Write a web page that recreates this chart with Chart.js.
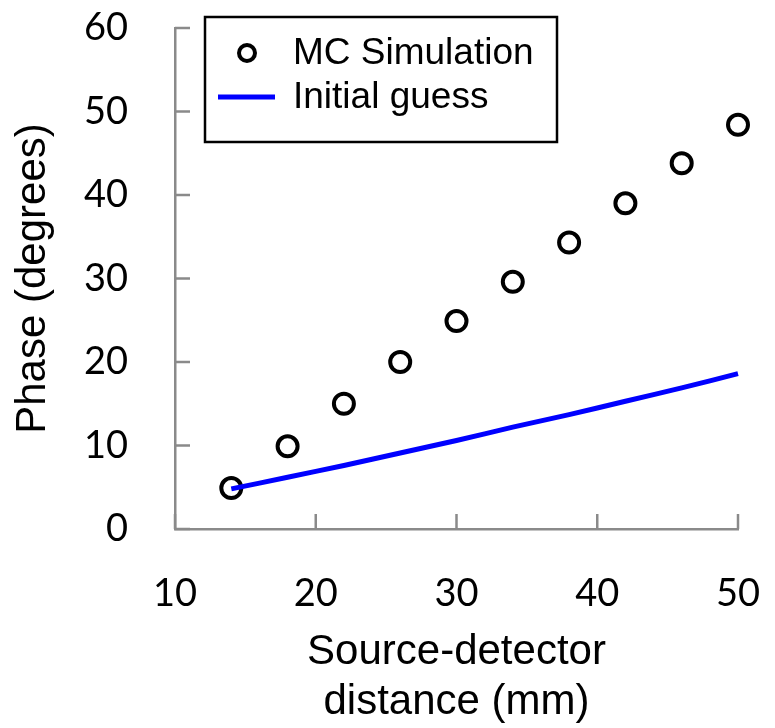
<!DOCTYPE html>
<html>
<head>
<meta charset="utf-8">
<script src="https://cdn.jsdelivr.net/npm/chart.js@4"></script>
<style>
  html, body { margin: 0; padding: 0; background: #fff; }
  #wrap { width: 775px; height: 728px; }
</style>
</head>
<body>
<div id="wrap"><canvas id="phaseChart"></canvas></div>
<script>
// distances (mm) and phases (degrees)
const distances = [14, 18, 22, 26, 30, 34, 38, 42, 46, 50];
const mcPhase = [4.9, 9.9, 15.0, 20.0, 24.9, 29.6, 34.3, 39.0, 43.8, 48.4];
const guessPhase = [4.8, 6.2, 7.6, 9.1, 10.6, 12.2, 13.7, 15.3, 16.9, 18.6];
const xTicks = [10, 20, 30, 40, 50];
const yTicks = [0, 10, 20, 30, 40, 50, 60];

const axisGray = "#8a8a8a";
const tickFont = { family: "Lato, 'Open Sans', sans-serif", size: 38 };
const titleFont = { family: "'Liberation Sans', Arial, sans-serif", size: 42, lineHeight: 1.2 };

// no automatic room for overhanging tick labels, the plot box is fixed
function noOverhang(scale) {
    scale.paddingTop = 0;
    scale.paddingBottom = 0;
    scale.paddingLeft = 0;
    scale.paddingRight = 0;
}

// Excel-style tick marks pointing into the plot
const innerTicks = {
    id: "innerTicks",
    afterDatasetsDraw(chart) {
        const { ctx, chartArea, scales } = chart;
        const len = 15;
        ctx.save();
        ctx.strokeStyle = axisGray;
        ctx.lineWidth = 2.5;
        ctx.beginPath();
        xTicks.forEach(v => {
            const px = scales.x.getPixelForValue(v);
            ctx.moveTo(px, chartArea.bottom);
            ctx.lineTo(px, chartArea.bottom - len);
        });
        yTicks.forEach(v => {
            const py = scales.y.getPixelForValue(v);
            ctx.moveTo(chartArea.left, py);
            ctx.lineTo(chartArea.left + len, py);
        });
        ctx.stroke();
        ctx.restore();
    }
};

// boxed legend inside the plot, top left
const boxLegend = {
    id: "boxLegend",
    afterDraw(chart) {
        const { ctx, chartArea } = chart;
        const left = chartArea.left + 30;
        const top = chartArea.top - 11;
        const w = 352, h = 125;
        ctx.save();
        ctx.fillStyle = "#fff";
        ctx.fillRect(left, top, w, h);
        ctx.strokeStyle = "#000";
        ctx.lineWidth = 2.5;
        ctx.strokeRect(left, top, w, h);

        const sc = chart.data.datasets[0];
        const ln = chart.data.datasets[1];
        // marker entry
        ctx.beginPath();
        ctx.arc(left + 42, top + 36, 8, 0, Math.PI * 2);
        ctx.lineWidth = 4;
        ctx.strokeStyle = sc.borderColor;
        ctx.stroke();
        // line entry
        ctx.beginPath();
        ctx.moveTo(left + 13, top + 80);
        ctx.lineTo(left + 70, top + 80);
        ctx.lineWidth = 5;
        ctx.strokeStyle = ln.borderColor;
        ctx.stroke();

        ctx.fillStyle = "#000";
        ctx.font = "37px 'Liberation Sans', Arial, sans-serif";
        ctx.textBaseline = "middle";
        ctx.fillText(sc.label, left + 88, top + 37);
        ctx.fillText(ln.label, left + 88, top + 81);
        ctx.restore();
    }
};

const ctx = document.getElementById("phaseChart").getContext("2d");
new Chart(ctx, {
    type: "scatter",
    data: {
        datasets: [{
            label: "MC Simulation",
            data: distances.map((d, i) => ({ x: d, y: mcPhase[i] })),
            borderColor: "#000",
            backgroundColor: "rgba(0,0,0,0)",
            borderWidth: 4,
            pointRadius: 10,
            pointHoverRadius: 10,
            clip: false,
            order: 1
        }, {
            type: "line",
            label: "Initial guess",
            data: distances.map((d, i) => ({ x: d, y: guessPhase[i] })),
            borderColor: "#0000ff",
            borderWidth: 5,
            pointRadius: 0,
            tension: 0.2,
            fill: false,
            clip: false,
            order: 0
        }]
    },
    options: {
        responsive: true,
        maintainAspectRatio: false,
        animation: false,
        layout: { padding: { top: 28, right: 37, bottom: 0, left: 0 } },
        plugins: {
            legend: { display: false },
            tooltip: { enabled: false }
        },
        scales: {
            x: {
                type: "linear",
                min: 10,
                max: 50,
                afterBuildTicks: scale => { scale.ticks = xTicks.map(v => ({ value: v })); },
                afterFit: scale => { scale.height = 199; noOverhang(scale); },
                grid: { drawOnChartArea: false, drawTicks: false },
                border: { color: axisGray, width: 2.5 },
                ticks: { color: "#000", font: tickFont, padding: 42, maxRotation: 0 },
                title: {
                    display: true,
                    text: ["Source-detector", "distance (mm)"],
                    color: "#000",
                    font: titleFont,
                    padding: { top: 0, bottom: 0 }
                }
            },
            y: {
                min: 0,
                max: 60,
                afterBuildTicks: scale => { scale.ticks = yTicks.map(v => ({ value: v })); },
                afterFit: scale => { scale.width = 175; noOverhang(scale); },
                grid: { drawOnChartArea: false, drawTicks: false },
                border: { color: axisGray, width: 2.5 },
                ticks: { color: "#000", font: tickFont, padding: 47 },
                title: {
                    display: true,
                    text: "Phase (degrees)",
                    color: "#000",
                    font: titleFont,
                    padding: { top: 8, bottom: 0 }
                }
            }
        }
    },
    plugins: [innerTicks, boxLegend]
});
</script>
</body>
</html>
